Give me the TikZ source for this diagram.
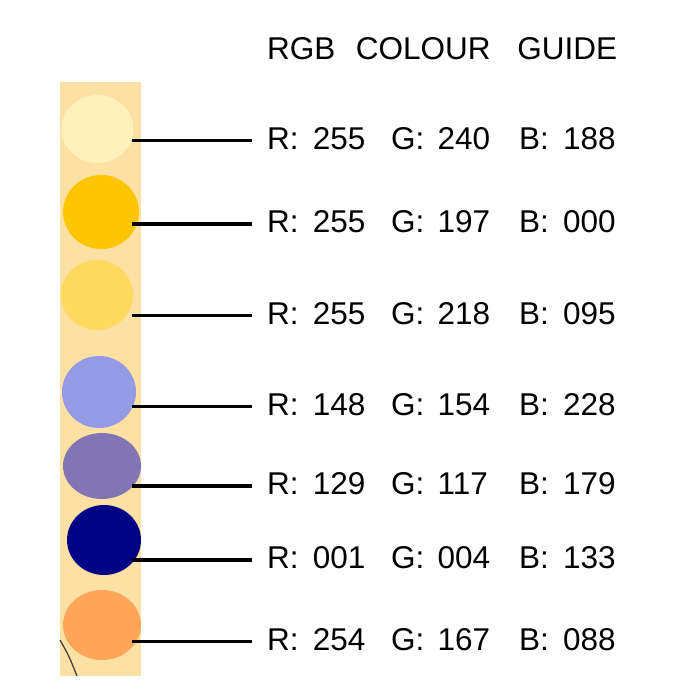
\documentclass[tikz,border=0pt]{standalone}
\usepackage{fontspec}
\setmainfont{Liberation Sans}
\usetikzlibrary{shapes.geometric}
\definecolor{stripbg}{RGB}{253,224,163}
\definecolor{sw1}{RGB}{255,240,188}
\definecolor{sw2}{RGB}{255,197,0}
\definecolor{sw3}{RGB}{255,218,95}
\definecolor{sw4}{RGB}{148,154,228}
\definecolor{sw5}{RGB}{129,117,179}
\definecolor{sw6}{RGB}{1,4,133}
\definecolor{sw7}{RGB}{254,167,88}
\tikzset{
  swatch/.style={ellipse, draw=none, inner sep=0pt},
  leader/.style={line width=3.2pt},
  val/.style={anchor=base west, inner sep=0pt}
}
\begin{document}
\begin{tikzpicture}[x=1pt, y=-1pt, font=\fontsize{31.5}{38}\selectfont]
  \useasboundingbox (0,0) rectangle (700,700);

  % Title
  \node[val] (title) at (267,60) {RGB\hspace{0.65em}COLOUR\hspace{0.85em}GUIDE};

  % Background strip of paper
  \fill[stripbg] (60,82) rectangle (141,676);
  \draw[black!75, line width=1.3pt] (60,640) .. controls (69,656) .. (77,676);

  % Swatches, leader lines and the values
  \foreach \n/\cx/\cy/\w/\h/\ly/\r/\g/\b in {
      1/97.5/129/72/68/140.7/255/240/188,
      2/101/212/76/74/224/255/197/000,
      3/97/295/72/70/315.7/255/218/095,
      4/99/392/74/72/406.7/148/154/228,
      5/102/466/78/66/486/129/117/179,
      6/104/540/74/70/560/001/004/133,
      7/102/625/78/70/641.7/254/167/088} {
    \node[swatch, fill=sw\n, minimum width=\w pt, minimum height=\h pt] (c\n) at (\cx,\cy) {};
    \coordinate (s\n) at (132,\ly);
    \coordinate (e\n) at (252,\ly);
    \draw[leader] (s\n) -- (e\n);
    \node[val] (r\n) at (267,\ly+8.5) {R:\hspace{0.45em}\r};
    \node[val] (g\n) at (391,\ly+8.5) {G:\hspace{0.42em}\g};
    \node[val] (b\n) at (519,\ly+8.5) {B:\hspace{0.45em}\b};
  }
\end{tikzpicture}
\end{document}
